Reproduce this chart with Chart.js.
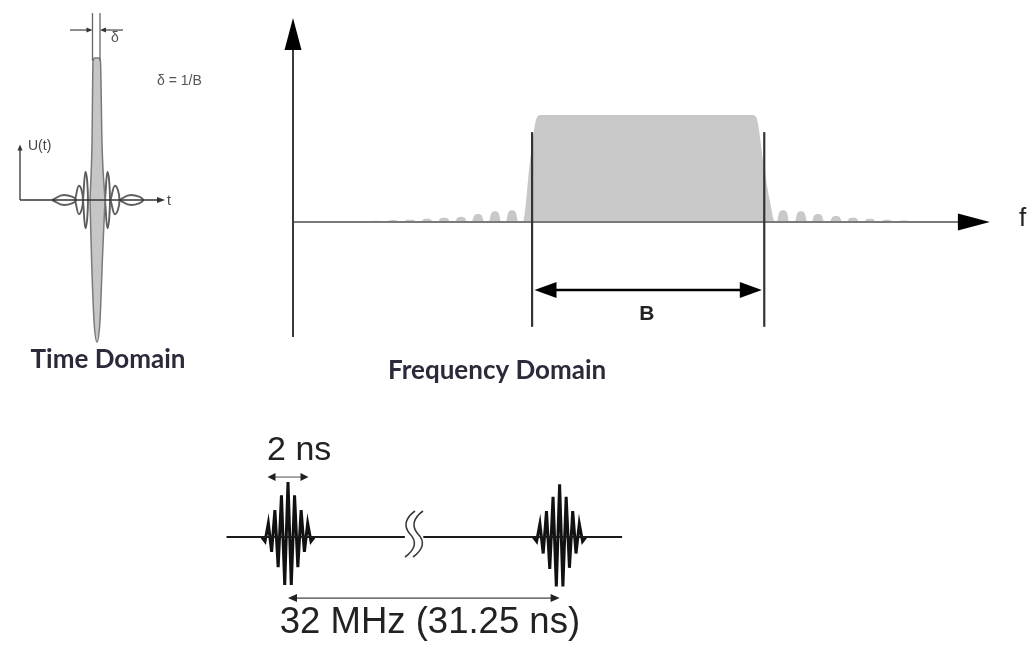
<!DOCTYPE html>
<html>
<head>
<meta charset="utf-8">
<script src="https://cdn.jsdelivr.net/npm/chart.js@4.4.1/dist/chart.umd.min.js"></script>
<style>
  html, body { margin: 0; padding: 0; background: #ffffff; }
  body { width: 1031px; height: 647px; position: relative; overflow: hidden; }
  canvas { position: absolute; display: block; }
</style>
</head>
<body>
<canvas id="timeChart" width="230" height="395" style="left:0px;top:0px"></canvas>
<canvas id="freqChart" width="761" height="400" style="left:270px;top:0px"></canvas>
<canvas id="trainChart" width="450" height="227" style="left:200px;top:420px"></canvas>
<script>
// ---------- Time domain impulse (time in tenths, amplitude normalised to the peak) ----------
const mainLobeUpT   = [-0.7, -0.5, -0.4, -0.25, 0.2, 0.35, 0.5, 0.8];
const mainLobeUpU   = [0, 0.4, 0.97, 1.0, 1.0, 0.97, 0.4, 0];
const mainLobeDownT = [-0.7, -0.55, -0.3, 0, 0.3, 0.55, 0.8];
const mainLobeDownU = [0, -0.4, -0.85, -1.0, -0.85, -0.4, 0];
const sideLobeT     = [-3.3, -1.8, -1.15, 1.05, 1.8, 3.4];
const sideLobeU     = [0.035, 0.1, 0.2, 0.2, 0.1, 0.035];
const sideLobeSpan  = [1.2, 0.4, 0.25, 0.25, 0.45, 1.2];

// ---------- Frequency domain magnitude (f in % of axis, magnitude normalised to the band) ----------
const leftLobeF    = [9.54, 12.0, 14.45, 16.9, 19.36, 21.82, 24.28, 26.73, 29.19, 31.65];
const leftLobeMag  = [0.01, 0.012, 0.018, 0.022, 0.03, 0.04, 0.05, 0.075, 0.1, 0.11];
const bandF        = [33.2, 34.3, 35.2, 35.8, 66.4, 67.0, 68.0, 68.9, 69.65];
const bandMag      = [0, 0.6, 0.97, 1.0, 1.0, 0.97, 0.55, 0.2, 0];
const rightLobeF   = [70.81, 73.41, 75.87, 78.47, 80.92, 83.38, 85.84, 88.29];
const rightLobeMag = [0.11, 0.1, 0.075, 0.055, 0.04, 0.03, 0.02, 0.015];
const bandEdgesF   = [34.55, 68.1];

// ---------- Pulse train (time in ns) ----------
const pulseOffsetNs = [-1.28, -1.12, -0.96, -0.80, -0.64, -0.48, -0.32, -0.16, 0,
                        0.16, 0.32, 0.48, 0.64, 0.80, 0.96, 1.12, 1.28];
const pulse1Amp = [0, -0.08, 0.25, -0.27, 0.49, -0.55, 0.76, -0.87, 1.0,
                   -0.87, 0.76, -0.55, 0.49, -0.27, 0.25, -0.08, 0];
const pulse2Amp = [0, -0.08, 0.24, -0.3, 0.47, -0.58, 0.73, -0.9, 0.96,
                   -0.9, 0.73, -0.56, 0.47, -0.3, 0.24, -0.08, 0];
const pulseStartNs = [0, 31.25];
const pulseWidthNs = 2;
const baselineNs = [[-3, 5.7], [24.6, 34.3]];
const axisGapNs = [6, 24];   // stretch of time left out of the drawing

// Labels
const labelTimeDomain = 'Time Domain';
const labelFreqDomain = 'Frequency Domain';
const labelBandwidth = 'B';
const labelFreqAxis = 'f';
const labelTimeAxis = 't';
const labelAmpAxis = 'U(t)';
const labelDelta = 'δ';
const labelDeltaDef = 'δ = 1/B';
const labelPulseWidth = '2 ns';
const labelPeriod = '32 MHz (31.25 ns)';

// ---------- helpers ----------
Chart.defaults.animation = false;
Chart.defaults.font.family = "'Liberation Sans', Arial, sans-serif";

class BrokenTimeScale extends Chart.LinearScale {
  static id = 'brokenTime';
  static defaults = Chart.LinearScale.defaults;
  squeeze(v) {
    const [a, b] = axisGapNs;
    return v <= a ? v : (v >= b ? v - (b - a) : a);
  }
  getPixelForValue(v) {
    const lo = this.squeeze(this.min), hi = this.squeeze(this.max);
    return this.getPixelForDecimal((this.squeeze(v) - lo) / (hi - lo));
  }
}
Chart.register(BrokenTimeScale);

const pts = (xs, ys) => xs.map((x, i) => ({ x, y: ys[i] }));
const P = (chart, x, y) => [chart.scales.x.getPixelForValue(x), chart.scales.y.getPixelForValue(y)];

// each sidelobe is drawn as a rounded mound around its centre frequency
function mounds(fs, mags) {
  const out = [];
  fs.forEach((c, i) => {
    const h = mags[i];
    out.push({ x: c - 0.9, y: 0 }, { x: c - 0.55, y: 0.8 * h }, { x: c, y: h },
             { x: c + 0.55, y: 0.8 * h }, { x: c + 0.9, y: 0 });
  });
  return out;
}
const spectrum = [...mounds(leftLobeF, leftLobeMag), ...pts(bandF, bandMag), ...mounds(rightLobeF, rightLobeMag)];

function seg(ctx, a, b, color, w) {
  ctx.save();
  ctx.strokeStyle = color; ctx.lineWidth = w; ctx.lineCap = 'butt';
  ctx.beginPath(); ctx.moveTo(a[0], a[1]); ctx.lineTo(b[0], b[1]); ctx.stroke();
  ctx.restore();
}
function head(ctx, tip, from, len, half, color) {
  const ang = Math.atan2(tip[1] - from[1], tip[0] - from[0]);
  const c = Math.cos(ang), s = Math.sin(ang);
  const bx = tip[0] - c * len, by = tip[1] - s * len;
  ctx.save();
  ctx.fillStyle = color;
  ctx.beginPath();
  ctx.moveTo(tip[0], tip[1]);
  ctx.lineTo(bx - s * half, by + c * half);
  ctx.lineTo(bx + s * half, by - c * half);
  ctx.closePath(); ctx.fill();
  ctx.restore();
}
function arrow(ctx, from, tip, o) {
  const ang = Math.atan2(tip[1] - from[1], tip[0] - from[0]);
  const end = [tip[0] - Math.cos(ang) * o.len * 0.8, tip[1] - Math.sin(ang) * o.len * 0.8];
  seg(ctx, from, end, o.line || o.color, o.width);
  head(ctx, tip, from, o.len, o.half, o.color);
}
function dblArrow(ctx, a, b, o) {
  const ang = Math.atan2(b[1] - a[1], b[0] - a[0]);
  const c = Math.cos(ang) * o.len * 0.8, s = Math.sin(ang) * o.len * 0.8;
  seg(ctx, [a[0] + c, a[1] + s], [b[0] - c, b[1] - s], o.line || o.color, o.width);
  head(ctx, a, b, o.len, o.half, o.color);
  head(ctx, b, a, o.len, o.half, o.color);
}
function label(ctx, str, p, font, color, align) {
  ctx.save();
  ctx.font = font; ctx.fillStyle = color;
  ctx.textAlign = align || 'left'; ctx.textBaseline = 'alphabetic';
  ctx.fillText(str, p[0], p[1]);
  ctx.restore();
}
function options(x, y, padding) {
  return {
    responsive: false, animation: false, events: [],
    layout: { padding },
    plugins: { legend: { display: false }, tooltip: { enabled: false }, title: { display: false } },
    elements: { point: { radius: 0, hoverRadius: 0 } },
    scales: {
      x: Object.assign({ type: 'linear', display: false, offset: false, grid: { display: false } }, x),
      y: Object.assign({ type: 'linear', display: false, offset: false, grid: { display: false } }, y)
    }
  };
}
const titleFont = "bold 26px Lato, 'Open Sans', sans-serif";
const titleColor = '#2a2a3a';

// ---------- Time domain ----------
const lobeLoops = sideLobeT.map((t, i) => {
  const a = sideLobeU[i], w = sideLobeSpan[i];
  return {
    data: [{ x: t - w, y: 0 }, { x: t, y: a }, { x: t + w, y: 0 }, { x: t, y: -a }, { x: t - w, y: 0 }],
    showLine: true, fill: false, tension: 0.45,
    borderColor: '#5e5e5e', borderWidth: 1.9, pointRadius: 0, clip: false
  };
});

new Chart(document.getElementById('timeChart'), {
  type: 'scatter',
  data: {
    datasets: [
      { data: pts(mainLobeUpT, mainLobeUpU), showLine: true, fill: 'origin',
        backgroundColor: '#c6c6c6', borderColor: '#7a7a7a', borderWidth: 1.5,
        cubicInterpolationMode: 'monotone', pointRadius: 0, clip: false },
      { data: pts(mainLobeDownT, mainLobeDownU), showLine: true, fill: 'origin',
        backgroundColor: '#c6c6c6', borderColor: '#7a7a7a', borderWidth: 1.5,
        cubicInterpolationMode: 'monotone', pointRadius: 0, clip: false },
      ...lobeLoops
    ]
  },
  options: options({ min: -9.7, max: 13.3 }, { min: -195 / 142, max: 200 / 142 }, 0),
  plugins: [{
    id: 'timeAnnotations',
    afterDatasetsDraw(chart) {
      const ctx = chart.ctx;
      const ax = -7.7;
      // U(t) and t axes
      arrow(ctx, P(chart, ax, 0), P(chart, ax, 0.39), { color: '#333', width: 1.3, len: 6, half: 2.5 });
      arrow(ctx, P(chart, ax, 0), P(chart, 6.8, 0), { color: '#333', width: 1.3, len: 8, half: 3 });
      // width markers of the main lobe
      seg(ctx, P(chart, -0.45, 0.98), P(chart, -0.45, 1.317), '#666', 1.3);
      seg(ctx, P(chart, 0.3, 0.98), P(chart, 0.3, 1.317), '#666', 1.3);
      arrow(ctx, P(chart, -2.7, 1.197), P(chart, -0.45, 1.197), { color: '#333', width: 1.1, len: 6, half: 2.5 });
      arrow(ctx, P(chart, 2.6, 1.197), P(chart, 0.3, 1.197), { color: '#333', width: 1.1, len: 6, half: 2.5 });
      label(ctx, labelDelta, P(chart, 1.4, 1.115), '14px "Liberation Sans", Arial', '#555');
      label(ctx, labelDeltaDef, P(chart, 6.0, 0.81), '14px "Liberation Sans", Arial', '#555');
      label(ctx, labelAmpAxis, P(chart, -6.9, 0.355), '14px "Liberation Sans", Arial', '#444');
      label(ctx, labelTimeAxis, P(chart, 7.0, -0.035), '14px "Liberation Sans", Arial', '#444');
      label(ctx, labelTimeDomain, P(chart, 1.1, -1.183), titleFont, titleColor, 'center');
    }
  }]
});

// ---------- Frequency domain ----------
new Chart(document.getElementById('freqChart'), {
  type: 'scatter',
  data: {
    datasets: [
      { data: spectrum, showLine: true, fill: 'origin',
        backgroundColor: '#c8c8c8', borderColor: 'rgba(0,0,0,0)', borderWidth: 0,
        cubicInterpolationMode: 'monotone', pointRadius: 0, clip: false }
    ]
  },
  options: options({ min: 0, max: 100 }, { min: -1.075, max: 1.907 },
                   { left: 23, right: 46, top: 18, bottom: 63 }),
  plugins: [{
    id: 'freqAnnotations',
    afterDatasetsDraw(chart) {
      const ctx = chart.ctx;
      // axes
      arrow(ctx, P(chart, 0, 0), P(chart, 100.7, 0), { color: '#000', line: '#7a7a7a', width: 2, len: 32, half: 8.5 });
      arrow(ctx, P(chart, 0, -1.075), P(chart, 0, 1.907), { color: '#000', line: '#3a3a3a', width: 2, len: 32, half: 8.5 });
      // band edges and bandwidth
      bandEdgesF.forEach(f => seg(ctx, P(chart, f, 0.84), P(chart, f, -0.98), '#333', 2.2));
      dblArrow(ctx, P(chart, bandEdgesF[0] + 0.35, -0.636), P(chart, bandEdgesF[1] - 0.35, -0.636),
               { color: '#000', width: 2.5, len: 22, half: 8 });
      label(ctx, labelBandwidth, P(chart, (bandEdgesF[0] + bandEdgesF[1]) / 2 - 0.2, -0.915),
            'bold 21px "Liberation Sans", Arial', '#222', 'center');
      label(ctx, labelFreqAxis, P(chart, 104.9, -0.04), '26px "Liberation Sans", Arial', '#222');
      label(ctx, labelFreqDomain, P(chart, 29.5, -1.467), titleFont, titleColor, 'center');
    }
  }]
});

// ---------- Pulse train ----------
const pulseSets = pulseStartNs.map((s, i) => ({
  data: pts(pulseOffsetNs.map(o => s + o), i === 0 ? pulse1Amp : pulse2Amp),
  showLine: true, fill: false, tension: 0,
  borderColor: '#111', borderWidth: 3, pointRadius: 0, clip: false
}));
const baseSets = baselineNs.map(([a, b]) => ({
  data: [{ x: a, y: 0 }, { x: b, y: 0 }],
  showLine: true, fill: false, borderColor: '#1a1a1a', borderWidth: 2, pointRadius: 0, clip: false
}));

new Chart(document.getElementById('trainChart'), {
  type: 'scatter',
  data: { datasets: [...baseSets, ...pulseSets] },
  options: options({ type: 'brokenTime', min: -4.293, max: 35.66 }, { min: -2.0, max: 117 / 55 }, 0),
  plugins: [{
    id: 'trainAnnotations',
    afterDatasetsDraw(chart) {
      const ctx = chart.ctx;
      // break mark on the time axis
      const [bx, by] = P(chart, axisGapNs[0], 0);
      ctx.save();
      ctx.strokeStyle = '#3a3a3a'; ctx.lineWidth = 1.6;
      [0, 8].forEach(dx => {
        const x = bx - 1 + dx;
        ctx.beginPath();
        ctx.moveTo(x + 5, by - 26);
        ctx.bezierCurveTo(x - 6, by - 18, x - 6, by - 10, x, by - 3);
        ctx.bezierCurveTo(x + 7, by + 4, x + 6, by + 12, x - 5, by + 20);
        ctx.stroke();
      });
      ctx.restore();
      // pulse width
      const s0 = pulseStartNs[0];
      dblArrow(ctx, P(chart, s0 - pulseWidthNs / 2, 1.09), P(chart, s0 + pulseWidthNs / 2, 1.09),
               { color: '#222', line: '#777', width: 1.3, len: 8, half: 4 });
      label(ctx, labelPulseWidth, P(chart, s0 - 1.02, 1.4), '34px "Liberation Sans", Arial', '#222');
      // repetition period
      dblArrow(ctx, P(chart, pulseStartNs[0], -1.11), P(chart, pulseStartNs[1], -1.11),
               { color: '#222', line: '#444', width: 1.3, len: 9, half: 4 });
      label(ctx, labelPeriod, P(chart, -0.4, -1.745), '36.5px "Liberation Sans", Arial', '#222');
    }
  }]
});
</script>
</body>
</html>
